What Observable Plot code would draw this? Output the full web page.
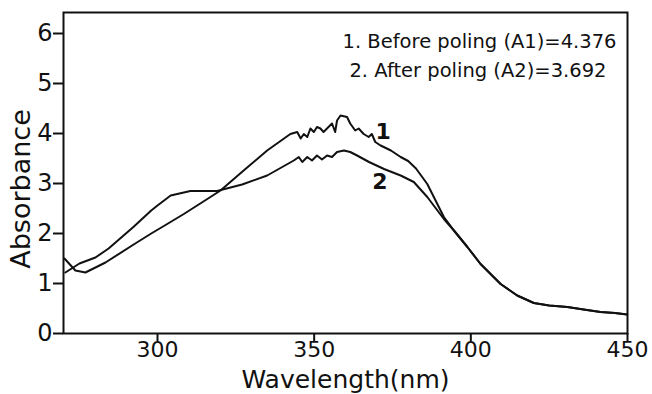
<!DOCTYPE html>
<html>
<head>
<meta charset="utf-8">
<script src="https://cdn.jsdelivr.net/npm/d3@7"></script>
<script src="https://cdn.jsdelivr.net/npm/@observablehq/plot@0.6"></script>
<style>
  html, body { margin: 0; padding: 0; background: #fff; }
  #chart svg { display: block; }
</style>
</head>
<body>
<div id="chart"></div>
<script>
// Curve 1: before poling
const beforeWl = [270.3, 273.8, 277.0, 283.4, 292.9, 298.0, 303.1, 308.4, 315.9, 320.1, 327.5, 335.0, 342.4,
  344.6, 345.7, 346.7, 347.8, 348.8, 349.9, 350.9, 352.0, 353.0, 354.1, 355.7, 356.7, 357.3, 358.4, 360.5,
  361.5, 363.1, 364.2, 365.8, 367.4, 368.4, 369.5, 371.2, 374.5, 377.6, 380.0, 382.5, 386.1, 391.4,
  394.6, 398.9, 403.1, 409.5, 414.8, 420.1, 425.0, 430.8, 436.0, 441.4, 446.0, 449.9];
const beforeAbs = [1.50, 1.26, 1.22, 1.42, 1.80, 2.00, 2.19, 2.39, 2.69, 2.86, 3.26, 3.66, 3.99,
  4.03, 3.90, 3.99, 3.93, 4.10, 4.03, 4.13, 4.10, 4.03, 4.10, 4.20, 4.03, 4.26, 4.36, 4.33,
  4.20, 4.06, 4.10, 3.99, 3.93, 3.99, 3.83, 3.76, 3.66, 3.53, 3.45, 3.30, 2.99, 2.33,
  2.06, 1.73, 1.39, 0.99, 0.76, 0.61, 0.56, 0.53, 0.48, 0.43, 0.41, 0.38];

// Curve 2: after poling
const afterWl = [270.6, 275.1, 280.2, 284.4, 292.3, 298.0, 300.0, 304.2, 310.5, 319.0, 327.0, 335.0, 343.5,
  345.1, 346.2, 347.8, 349.3, 350.9, 352.5, 354.1, 355.7, 357.3, 359.5, 361.5, 363.7, 367.5, 372.3,
  377.6, 381.8, 386.1, 391.4,
  394.6, 398.9, 403.1, 409.5, 414.8, 420.1, 425.0, 430.8, 436.0, 441.4, 446.0, 449.9];
const afterAbs = [1.22, 1.40, 1.52, 1.70, 2.13, 2.46, 2.56, 2.76, 2.85, 2.85, 2.98, 3.16, 3.46,
  3.53, 3.43, 3.53, 3.46, 3.56, 3.48, 3.56, 3.53, 3.63, 3.66, 3.63, 3.56, 3.43, 3.29,
  3.16, 3.03, 2.73, 2.29,
  2.06, 1.73, 1.39, 0.99, 0.76, 0.61, 0.56, 0.53, 0.48, 0.43, 0.41, 0.38];

const xTicks = [300, 350, 400, 450];
const yTicks = [0, 1, 2, 3, 4, 5, 6];

const curveLabels = ["1", "2"];
const curveLabelWl = [372.0, 371.0];
const curveLabelAbs = [4.03, 3.03];

const legendLines = ["1. Before poling (A1)=4.376", "2. After poling (A2)=3.692"];
const legendWl = [446.5, 443.3];
const legendAbs = [5.84, 5.25];

const before = beforeWl.map((w, i) => ({wl: w, abs: beforeAbs[i]}));
const after = afterWl.map((w, i) => ({wl: w, abs: afterAbs[i]}));
const labels = curveLabels.map((t, i) => ({t, wl: curveLabelWl[i], abs: curveLabelAbs[i]}));
const legend = legendLines.map((t, i) => ({t, wl: legendWl[i], abs: legendAbs[i]}));

const font = "'DejaVu Sans', sans-serif";

const chart = Plot.plot({
  width: 652,
  height: 394,
  marginLeft: 63,
  marginRight: 25,
  marginTop: 12,
  marginBottom: 61,
  style: {fontFamily: font, color: "#111", background: "#fff"},
  x: {domain: [270, 450]},
  y: {domain: [0, 6.42]},
  marks: [
    Plot.frame({stroke: "#111", strokeWidth: 2}),
    Plot.axisX({ticks: xTicks, tickSize: 8, tickPadding: 0, fontSize: 22, strokeWidth: 2,
      label: "Wavelength(nm)", labelAnchor: "center", labelArrow: "none", labelOffset: 54}),
    Plot.axisY({ticks: yTicks, tickFormat: "d", tickSize: 10, tickPadding: 1, fontSize: 24, strokeWidth: 2,
      label: "Absorbance", labelAnchor: "center", labelArrow: "none", labelOffset: 53}),
    Plot.line(before, {x: "wl", y: "abs", stroke: "#111", strokeWidth: 2, curve: "linear"}),
    Plot.line(after, {x: "wl", y: "abs", stroke: "#111", strokeWidth: 2, curve: "linear"}),
    Plot.text(labels, {x: "wl", y: "abs", text: "t", fontSize: 22, fontWeight: "bold", fill: "#111"}),
    Plot.text(legend, {x: "wl", y: "abs", text: "t", fontSize: 19.5, textAnchor: "end", fill: "#111"})
  ]
});
chart.querySelectorAll("g[aria-label='x-axis label'] text").forEach(t => t.setAttribute("font-size", 25));
chart.querySelectorAll("g[aria-label='y-axis label'] text").forEach(t => {
  t.setAttribute("font-size", 27);
  t.setAttribute("dx", -16);
});
document.getElementById("chart").appendChild(chart);
</script>
</body>
</html>
